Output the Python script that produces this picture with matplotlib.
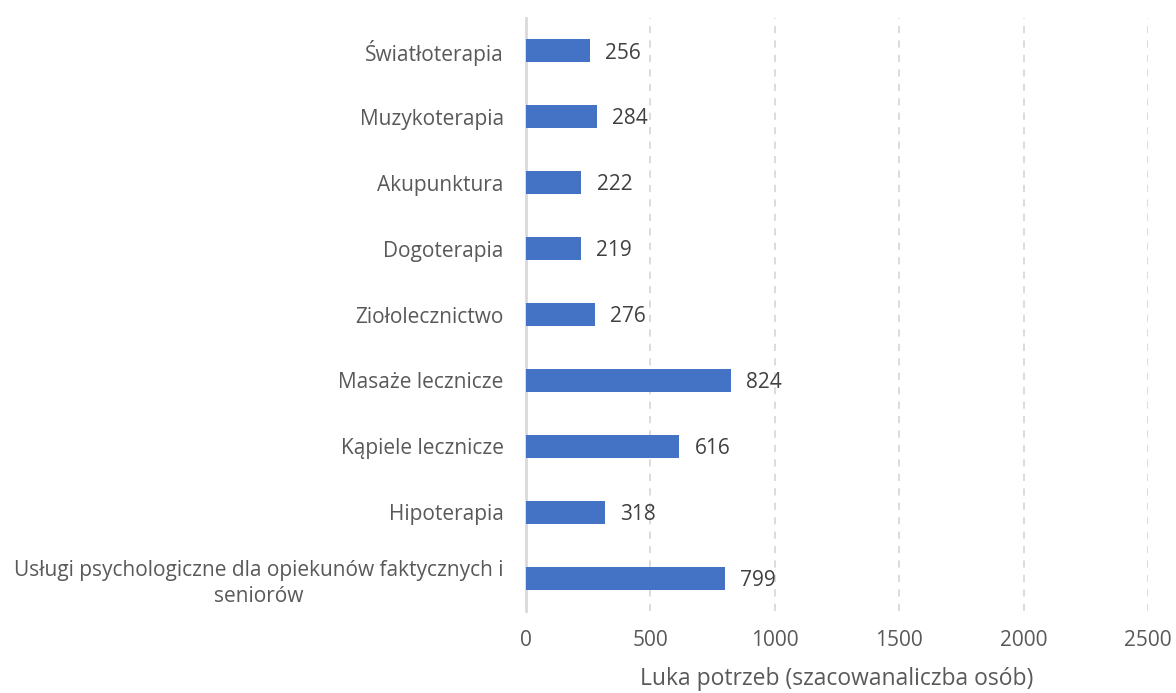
import matplotlib
matplotlib.use("Agg")
import matplotlib.pyplot as plt
import numpy as np

categories = [
    "Światłoterapia",
    "Muzykoterapia",
    "Akupunktura",
    "Dogoterapia",
    "Ziołolecznictwo",
    "Masaże lecznicze",
    "Kąpiele lecznicze",
    "Hipoterapia",
    "Usługi psychologiczne dla opiekunów faktycznych i\nseniorów",
]
values = [256, 284, 222, 219, 276, 824, 616, 318, 799]
xticks = [0, 500, 1000, 1500, 2000, 2500]
xlabel = "Luka potrzeb (szacowanaliczba osób)"

plt.rcParams['font.family'] = ['Open Sans', 'DejaVu Sans']

fig = plt.figure(figsize=(11.76, 6.93), dpi=100)
ax = fig.add_axes([0.4473, 0.1183, 0.5289, 0.8557])

y = np.arange(len(categories))
ax.barh(y, values, height=0.35, color="#4472C4", zorder=3)
ax.set_ylim(len(categories) - 0.5, -0.5)
ax.set_xlim(0, 2500)
ax.set_xticks(xticks)
ax.set_xticklabels([str(t) for t in xticks])
ax.set_yticks(y)
ax.set_yticklabels(categories)
for lab in ax.get_yticklabels():
    lab.set_multialignment("center")
    lab.set_linespacing(1.35)
ax.tick_params(axis="y", length=0, pad=16, labelsize=15, labelcolor="#595959")
ax.tick_params(axis="x", length=0, pad=14, labelsize=15, labelcolor="#595959")

ax.grid(axis="x", color="#d9d9d9", linestyle=(0, (4, 4)), linewidth=1.3, zorder=0)
for s in ["top", "right", "bottom"]:
    ax.spines[s].set_visible(False)
ax.spines["left"].set_color("#d9d9d9")
ax.spines["left"].set_linewidth(2)

for yi, v in zip(y, values):
    ax.annotate(str(v), xy=(v, yi), xytext=(11, -1.5), textcoords="offset points",
                ha="left", va="center", fontsize=15, color="#404040")

ax.set_xlabel(xlabel, fontsize=16.5, color="#595959", labelpad=11)

fig.savefig("out.png", dpi=100)
